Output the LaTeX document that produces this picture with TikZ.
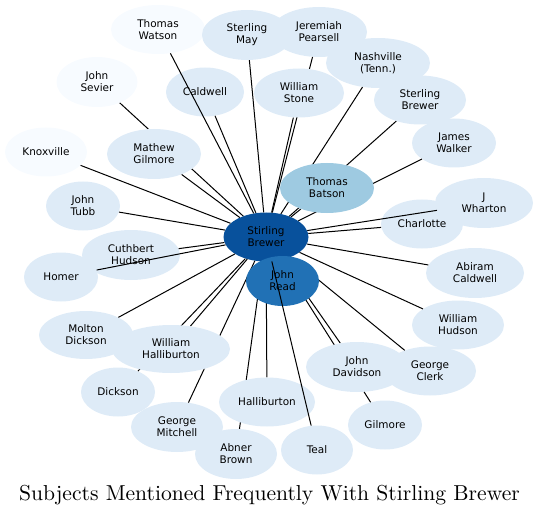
\documentclass[tikz,border=0pt]{standalone}
\usepackage{fontspec}
\newfontfamily\nodefont{DejaVu Sans}
\newfontfamily\titlefont{lmroman10-regular}[Extension=.otf]
\usetikzlibrary{shapes.geometric}
\definecolor{cPale}{HTML}{F7FBFF}
\definecolor{cLight}{HTML}{DEEBF7}
\definecolor{cMid}{HTML}{9ECAE1}
\definecolor{cRead}{HTML}{2171B5}
\definecolor{cDark}{HTML}{08519C}
\pgfdeclarelayer{bg}
\pgfdeclarelayer{fg}
\pgfdeclarelayer{fgg}
\pgfsetlayers{bg,main,fg,fgg}
\begin{document}
\begin{tikzpicture}[x=1bp,y=-1bp,
  nd/.style={ellipse, inner sep=0pt, draw=none, align=center, text=black,
    font=\nodefont\fontsize{10.5}{12}\selectfont},
  lt/.style={nd, fill=cLight},
  pl/.style={nd, fill=cPale},
  sz/.style 2 args={minimum width=#1bp, minimum height=#2bp},
  edge/.style={line width=1bp, black}]
\useasboundingbox (0,0) rectangle (539,515);
\begin{pgfonlayer}{bg}
  \node[pl, sz={94}{49}] (tw) at (158,29.5) {Thomas\\Watson};
  \node[lt, sz={90}{50}] (sm) at (247,35) {Sterling\\May};
  \node[lt, sz={96}{50}] (jp) at (319,32) {Jeremiah\\Pearsell};
  \node[lt, sz={104}{50}] (na) at (378,63) {Nashville\\(Tenn.)};
  \node[lt, sz={92}{49}] (sbo) at (420,100) {Sterling\\Brewer};
  \node[lt, sz={84}{49}] (jw) at (454,143) {James\\Walker};
  \node[lt, sz={78}{49}] (ca) at (205,92) {Caldwell};
  \node[pl, sz={81}{50}] (js) at (97,82) {John\\Sevier};
  \node[pl, sz={82}{49}] (kn) at (46,152) {Knoxville};
  \node[lt, sz={74}{49}] (jt) at (83,206) {John\\Tubb};
  \node[lt, sz={98}{50}] (ch) at (131,255) {Cuthbert\\Hudson};
  \node[lt, sz={74}{49}] (ho) at (61,277) {Homer};
  \node[lt, sz={94}{48}] (md) at (86,335) {Molton\\Dickson};
  \node[lt, sz={74}{49}] (di) at (118,392) {Dickson};
  \node[lt, sz={92}{50}] (gm) at (177,427) {George\\Mitchell};
  \node[lt, sz={82}{50}] (ab) at (236,454) {Abner\\Brown};
  \node[lt, sz={72}{49}] (te) at (317,450) {Teal};
  \node[lt, sz={74}{49}] (gi) at (385,425) {Gilmore};
  \node[lt, sz={92}{49}] (gc) at (430,371) {George\\Clerk};
  \node[lt, sz={92}{49}] (whu) at (458,325) {William\\Hudson};
  \node[lt, sz={98}{50}] (ac) at (475,273) {Abiram\\Caldwell};
  \node[lt, sz={98}{50}] (jwh) at (484,203) {J\\Wharton};
  \node[lt, sz={82}{49}] (cha) at (422,224) {Charlotte};
\end{pgfonlayer}
\begin{pgfonlayer}{fg}
  \node[lt, sz={90}{49}] (ws) at (299,93) {William\\Stone};
  \node[lt, sz={94}{50}] (mg) at (154,154) {Mathew\\Gilmore};
  \node[nd, fill=cMid, sz={94}{50}] (tb) at (327,188) {Thomas\\Batson};
  \node[lt, sz={118}{48}] (wh) at (171,349) {William\\Halliburton};
  \node[lt, sz={96}{49}] (ha) at (267,402) {Halliburton};
  \node[lt, sz={102}{50}] (jd) at (357,367) {John\\Davidson};
  \node[nd, fill=cRead, sz={73}{50}] (jr) at (282.5,281) {John\\Read};
\end{pgfonlayer}
\node[nd, fill=cDark, sz={85}{49}] (sb) at (266,237) {Stirling\\Brewer};
\foreach \n in {tw,sm,jp,na,sbo,jw,ws,ca,js,kn,mg,jt,ch,ho,md,wh,di,gm,ab,ha,gi,jd,gc,whu,ac,cha,jwh,tb}
  \draw[edge] (sb) -- (\n);
\begin{pgfonlayer}{fgg}
  \draw[edge] (sb) -- (te);
\end{pgfonlayer}
\node[anchor=base, font=\titlefont\fontsize{21.7}{26}\selectfont] (title) at (269.5,500)
  {Subjects Mentioned Frequently With Stirling Brewer};
\end{tikzpicture}
\end{document}
